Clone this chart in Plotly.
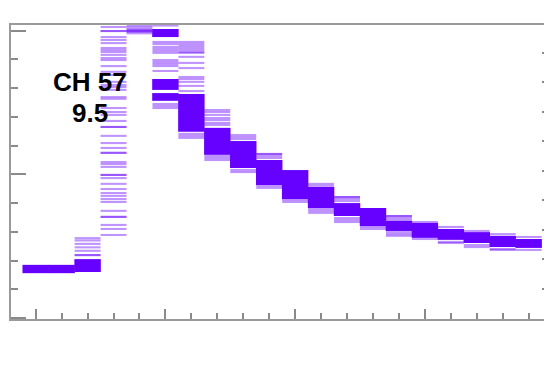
import plotly.graph_objects as go

# ---- data ----
bins = list(range(20))

# solid cores of the overlaid histograms: (bin, low, high)
band_bin = [0, 1, 2, 5, 5, 5, 6, 7, 8, 9, 10, 11, 12, 13, 14, 15, 16, 17, 18, 19]
band_lo = [1.56, 1.56, 1.60, 9.78, 7.94, 7.56, 6.48, 5.68, 5.22, 4.63, 4.14, 3.83,
           3.55, 3.20, 3.03, 2.79, 2.72, 2.61, 2.47, 2.44]
band_hi = [1.85, 1.85, 2.05, 10.06, 8.32, 7.83, 7.80, 6.62, 6.16, 5.50, 5.15, 4.56,
           4.00, 3.83, 3.38, 3.31, 3.10, 2.99, 2.86, 2.75]

# individual histogram levels per bin
lines_by_bin = [
    [],
    [],
    [2.78, 2.70, 2.58, 2.46, 2.34, 2.19, 2.19],
    [10.24, 10.13, 9.99, 9.99, 9.78, 9.68, 9.57, 9.40, 9.33, 9.26, 9.16, 9.05, 8.98,
     8.77, 8.57, 8.46, 8.22, 8.11, 8.04, 7.94, 7.69, 7.63, 7.31, 7.17, 7.07, 6.86,
     6.65, 6.65, 6.34, 6.09, 5.92, 5.75, 5.75, 5.43, 5.36, 5.26, 4.98, 4.98, 4.87,
     4.67, 4.49, 4.35, 4.25, 4.14, 4.04, 3.73, 3.52, 3.52, 3.24, 3.10, 2.89],
    [10.24, 10.19, 10.13, 10.06, 10.03, 9.99, 9.99, 9.96, 9.91],
    [10.24, 10.18, 9.61, 9.54, 9.44, 9.37, 9.30, 9.23, 8.98, 8.91, 8.84, 8.77, 8.60,
     7.45, 7.38, 7.31],
    [9.61, 9.54, 9.47, 9.40, 9.33, 9.26, 9.23, 9.09, 8.88, 8.70, 8.39, 8.32, 8.22,
     8.08, 7.90, 6.41, 6.34, 6.27],
    [7.24, 7.17, 7.07, 6.96, 6.89, 6.79, 6.72, 5.64, 5.57, 5.50],
    [6.37, 6.30, 6.23, 5.15, 5.08],
    [5.71, 5.71, 5.64, 5.57, 4.60, 4.53],
    [4.11, 4.04],
    [4.67, 4.60, 3.80, 3.73, 3.66],
    [4.21, 4.21, 4.14, 4.07, 3.48, 3.41, 3.34],
    [3.17, 3.10],
    [3.55, 3.55, 3.48, 3.41, 2.99, 2.92, 2.86],
    [3.34, 2.75],
    [3.17, 2.65, 2.61],
    [3.03, 2.54, 2.47],
    [2.92, 2.40, 2.37],
    [2.82, 2.37],
]

label_line1 = "CH 57"
label_line2 = "9.5"

# ---- figure ----
PURPLE = "rgb(102,0,255)"
PURPLE_T = "rgba(102,0,255,0.42)"
GRAY = "#9a9a9a"

fig = go.Figure()

fig.add_trace(go.Bar(
    x=band_bin, base=band_lo, y=[h - l for l, h in zip(band_lo, band_hi)],
    width=1.02, marker=dict(color=PURPLE, line=dict(width=0)),
    showlegend=False, hoverinfo="skip",
))

for b, vals in zip(bins, lines_by_bin):
    for v in vals:
        fig.add_trace(go.Scatter(
            x=[b - 0.5, b + 0.5], y=[v, v], mode="lines",
            line=dict(color=PURPLE_T, width=2.1),
            showlegend=False, hoverinfo="skip",
        ))

# invisible trace to activate the right-hand axis
fig.add_trace(go.Scatter(x=[0], y=[0], yaxis="y2", mode="markers",
                         marker=dict(opacity=0), showlegend=False, hoverinfo="skip"))

# page has an 8px body margin: plot area spans page x 11..552, y 25..319
fig.add_annotation(text=label_line1, xref="paper", yref="paper",
                   x=(90 - 11) / 541, y=(319 - 82) / 294, xanchor="center", yanchor="middle",
                   showarrow=False,
                   font=dict(family="Liberation Sans, Arial, sans-serif", size=26,
                             color="black", weight="bold"))
fig.add_annotation(text=label_line2, xref="paper", yref="paper",
                   x=(90 - 11) / 541, y=(319 - 113) / 294, xanchor="center", yanchor="middle",
                   showarrow=False,
                   font=dict(family="Liberation Sans, Arial, sans-serif", size=26,
                             color="black", weight="bold"))

fig.update_layout(
    width=544, height=360,
    margin=dict(l=3, r=0, t=17, b=49),
    paper_bgcolor="white", plot_bgcolor="white",
    barmode="overlay", hovermode=False, showlegend=False,
    xaxis=dict(range=[-0.952, 19.9], showgrid=False, zeroline=False,
               showline=True, linecolor=GRAY, linewidth=2, mirror=True,
               ticks="inside", tick0=0, dtick=5, ticklen=10, tickwidth=2,
               tickcolor="#8a8a8a", showticklabels=False,
               minor=dict(ticks="inside", dtick=1, tick0=0, ticklen=6,
                          tickwidth=1.5, tickcolor="#8a8a8a")),
    yaxis=dict(range=[-0.035, 10.20], showgrid=False, zeroline=False,
               showline=True, linecolor=GRAY, linewidth=2,
               ticks="inside", tick0=0, dtick=5, ticklen=15, tickwidth=2,
               tickcolor="#8a8a8a", showticklabels=False,
               minor=dict(ticks="inside", dtick=1, tick0=0, ticklen=7,
                          tickwidth=1.5, tickcolor="#8a8a8a")),
    yaxis2=dict(range=[-0.017, 9.94], overlaying="y", side="right",
                showgrid=False, zeroline=False, showline=False,
                ticks="inside", tick0=0, dtick=1, ticklen=10, tickwidth=2,
                tickcolor="#8a8a8a", showticklabels=False),
)

fig.write_html("out.html")
